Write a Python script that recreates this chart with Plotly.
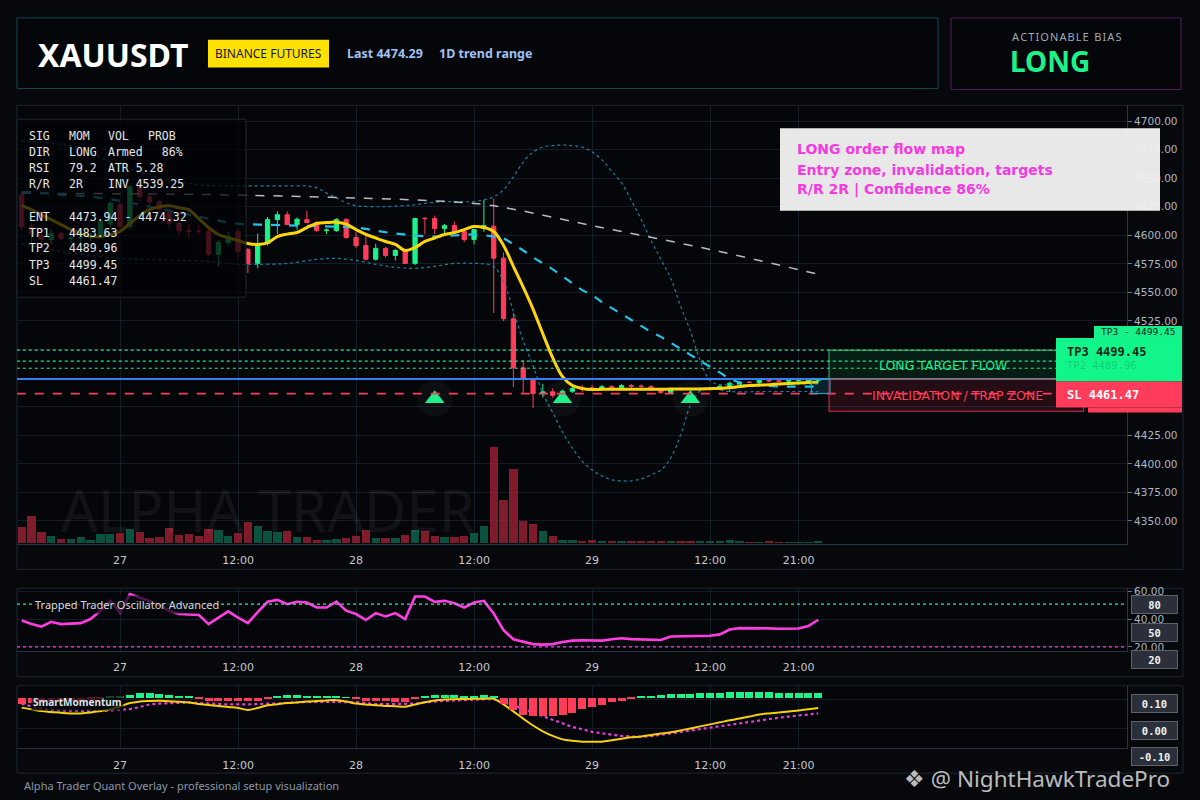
import plotly.graph_objects as go
from datetime import datetime, timedelta

START = datetime(2025, 12, 26, 14)

opens = [4635.4, 4607.6, 4600.0, 4596.3, 4601.5, 4597.2, 4597.6, 4598.0, 4599.0, 4610.0,
         4626.7, 4607.6, 4642.4, 4633.7, 4629.4, 4620.0, 4610.5, 4604.1, 4603.5, 4603.3,
         4583.3, 4593.7, 4603.0, 4587.6, 4575.4, 4592.8, 4613.7, 4618.0, 4609.5, 4613.7,
         4611.1, 4604.1, 4604.1, 4613.7, 4598.0, 4591.1, 4579.0, 4588.5, 4582.4, 4586.7,
         4575.4, 4615.0, 4614.6, 4605.9, 4608.5, 4603.3, 4596.3, 4605.9, 4608.0, 4580.0,
         4527.0, 4484.0, 4474.0, 4461.5, 4463.0, 4460.0, 4463.5, 4466.0, 4466.5, 4465.5,
         4467.5, 4466.5, 4468.5, 4468.0, 4467.5, 4465.0, 4462.5, 4465.4, 4465.2, 4465.0,
         4465.6, 4466.0, 4467.0, 4469.0, 4471.5, 4471.0, 4473.0, 4472.6, 4472.3, 4472.8,
         4472.5, 4473.0]
highs = [4637.5, 4611, 4601.5, 4605, 4603, 4601, 4600, 4602, 4614, 4630,
         4629, 4644, 4645, 4636, 4631, 4623, 4612, 4610, 4609, 4606,
         4596, 4603, 4606, 4589, 4601.5, 4616, 4621, 4621, 4615.5, 4621.5,
         4612.5, 4606, 4615, 4615, 4603, 4602.4, 4592.6, 4590, 4588, 4588,
         4615.5, 4615.5, 4617.2, 4610, 4612, 4605, 4605.5, 4631, 4632, 4585,
         4532, 4491, 4475, 4470, 4466, 4465, 4467.5, 4469, 4469, 4469,
         4469, 4470, 4470, 4469.5, 4469, 4466, 4466.5, 4466.5, 4466.5, 4466.5,
         4467, 4469, 4472, 4472.5, 4472.5, 4474, 4474, 4473.5, 4473.5, 4474,
         4475, 4475]
lows = [4604.5, 4592, 4593, 4592, 4595, 4593, 4593, 4595, 4597, 4607,
        4604, 4605, 4630, 4626, 4620, 4606, 4600, 4597, 4600, 4582,
        4573, 4591, 4580, 4567, 4571, 4591, 4601, 4609, 4605, 4610.5,
        4603, 4601, 4603, 4597, 4589, 4578, 4578, 4580.7, 4578, 4575,
        4574, 4601, 4601, 4601, 4600, 4594, 4592, 4603, 4532, 4525,
        4467, 4462, 4449, 4458, 4458, 4458, 4462, 4463, 4464, 4464,
        4465, 4465, 4466, 4466, 4464, 4461, 4461, 4464, 4464, 4464,
        4464.5, 4465, 4463, 4468, 4470.5, 4470, 4471.5, 4471.5, 4471.5, 4472,
        4472, 4471]
closes = [4607.6, 4601.5, 4596.3, 4601.5, 4597.2, 4597.6, 4598.0, 4599.0, 4612.0, 4628.0,
          4607.6, 4642.4, 4633.7, 4629.4, 4622.4, 4610.5, 4604.1, 4603.5, 4603.2, 4583.3,
          4593.7, 4599.0, 4586.0, 4575.4, 4592.8, 4613.7, 4618.0, 4609.5, 4614.0, 4611.1,
          4604.1, 4604.6, 4613.7, 4598.0, 4591.1, 4579.0, 4588.5, 4582.4, 4586.7, 4575.4,
          4614.6, 4614.6, 4605.9, 4608.5, 4603.3, 4596.3, 4605.0, 4608.5, 4580.0, 4527.0,
          4484.0, 4474.0, 4461.5, 4463.0, 4460.0, 4463.5, 4466.0, 4465.7, 4465.8, 4467.5,
          4467.0, 4468.5, 4468.0, 4467.8, 4465.0, 4462.5, 4465.0, 4465.2, 4465.0, 4465.6,
          4466.2, 4468.0, 4470.5, 4471.5, 4471.2, 4473.0, 4472.6, 4472.3, 4472.8, 4473.2,
          4474.0, 4474.29]
volumes = [49, 81, 33, 21, 13, 13, 18, 10, 27, 27,
           31, 43, 34, 16, 18, 46, 25, 27, 21, 43,
           40, 22, 31, 63, 51, 36, 33, 37, 19, 19,
           10, 10, 13, 16, 21, 40, 16, 16, 16, 25,
           40, 37, 21, 19, 19, 22, 30, 51, 292, 130,
           223, 67, 58, 37, 22, 10, 10, 7, 10, 6,
           6, 6, 6, 6, 6, 6, 6, 6, 6, 6,
           6, 6, 9, 6, 3, 3, 6, 3, 3, 3,
           3, 6]

# smoothed trend (yellow) per candle
trend_ma = [4625.9, 4622.4, 4618.0, 4613.7, 4609.4, 4605.0, 4601.5, 4598.9, 4598.9, 4600.7,
            4603.3, 4610.3, 4617.2, 4622.4, 4625.0, 4625.9, 4624.1, 4622.4, 4614.6, 4606.8,
            4600.7, 4598.0, 4595.4, 4592.8, 4592.0, 4593.3, 4598.9, 4601.0, 4602.4, 4606.8,
            4610.3, 4611.1, 4611.5, 4609.8, 4605.0, 4600.7, 4597.6, 4594.6, 4592.0, 4586.7,
            4589.3, 4594.6, 4597.6, 4600.7, 4602.4, 4605.0, 4607.6, 4606.8, 4603.3, 4591.1,
            4572.8, 4554.6, 4535.4, 4513.7, 4492.8, 4476.3, 4468.5, 4465.9, 4465.0, 4465.2,
            4465.3, 4465.3, 4465.3, 4465.3, 4465.3, 4465.3, 4465.4, 4465.4, 4465.5, 4465.6,
            4465.8, 4466.0, 4466.7, 4467.6, 4468.5, 4468.9, 4469.3, 4469.8, 4470.2, 4470.7,
            4471.1, 4471.5]
upper_band = [4682.4, 4682.0, 4681.5, 4680.7, 4679.5, 4678.5, 4677.2, 4673.0, 4668.5, 4664.1,
              4661.0, 4658.0, 4655.4, 4653.0, 4650.5, 4648.5, 4646.8, 4645.3, 4644.1, 4643.6,
              4643.3, 4643.2, 4643.2, 4643.2, 4643.2, 4643.2, 4643.2, 4643.2, 4643.2, 4643.2,
              4641.5, 4637.0, 4632.8, 4628.5, 4625.9, 4625.2, 4625.0, 4625.0, 4625.5, 4626.0,
              4626.7, 4628.0, 4629.0, 4629.4, 4629.4, 4629.4, 4629.4, 4631.0, 4633.7, 4639.8,
              4651.1, 4664.1, 4672.8, 4677.2, 4678.5, 4679.0, 4678.5, 4677.2, 4673.0, 4666.0,
              4656.0, 4645.9, 4630.2, 4613.7, 4595.4, 4578.9, 4562.4, 4538.0, 4516.3, 4490.2,
              4472.8, 4469.3, 4469.3, 4469.3, 4469.3, 4469.3, 4469.3, 4469.3, 4470.0, 4470.0,
              4470.0, 4470.0]
lower_idx = [0, 2, 4, 7, 10, 13, 16, 19, 22, 24, 27, 30, 32, 34, 36, 38, 40, 42, 44, 46,
             47, 48, 49, 50, 51, 52, 53, 54, 55, 56, 57, 58, 59, 60, 61, 62, 63, 64, 65, 66,
             67, 68, 69, 70, 72, 76, 81]
lower_band = [4592.8, 4589.3, 4585.9, 4582.4, 4579.8, 4578.9, 4578.0, 4577.2, 4574.6, 4574.6,
              4575.4, 4578.9, 4579.8, 4578.0, 4574.6, 4572.0, 4571.1, 4572.8, 4575.4, 4575.4,
              4575.0, 4572.8, 4559.8, 4533.7, 4507.6, 4485.9, 4461.5, 4445.0, 4427.6, 4413.8,
              4402.4, 4394.6, 4389.4, 4386.0, 4385.1, 4385.1, 4386.8, 4390.3, 4394.6, 4405.1,
              4425.1, 4451.1, 4464.1, 4466.0, 4463.3, 4463.3, 4463.3]
basis_idx = [0, 2, 4, 6, 8, 10, 12, 14, 16, 18, 20, 22, 24, 26, 28, 30, 32, 34, 36, 38,
             40, 42, 44, 46, 48, 49, 50, 51, 52, 53, 54, 55, 56, 57, 58, 59, 60, 61, 62, 63,
             64, 65, 66, 67, 68, 69, 70, 71, 72, 73, 74, 75, 78, 81]
basis = [4638.0, 4637.2, 4635.4, 4634.6, 4632.8, 4630.2, 4626.7, 4623.3, 4619.8, 4616.3,
         4612.8, 4610.2, 4609.4, 4609.0, 4608.5, 4608.0, 4607.6, 4606.8, 4604.1, 4601.5,
         4599.8, 4598.9, 4599.8, 4600.7, 4598.9, 4597.2, 4592.0, 4586.7, 4580.7, 4575.4,
         4570.2, 4564.1, 4558.0, 4552.0, 4547.6, 4541.5, 4536.3, 4531.1, 4525.9, 4520.7,
         4515.4, 4511.1, 4505.9, 4500.7, 4495.4, 4490.2, 4485.0, 4479.8, 4474.6, 4471.1,
         4469.3, 4468.5, 4467.6, 4467.6]
regression_idx = [0, 23, 46, 50, 58, 70, 81]
regression = [4636.7, 4635.0, 4627.9, 4622.8, 4608.5, 4587.6, 4565.9]

signal_idx = [42, 55, 68]
signal_price = [4457.0, 4457.0, 4457.0]

TP1, TP2, TP3 = 4483.63, 4489.96, 4499.45
ENTRY_LO, ENTRY_HI = 4473.94, 4474.32
SL = 4461.47
TRAP_LOW = 4446.0

oscillator = [39.0, 36.4, 34.6, 38.0, 36.4, 36.6, 37.1, 40.0, 46.0, 53.0,
              44.8, 57.9, 55.5, 53.0, 50.0, 45.9, 43.6, 43.3, 43.0, 36.4,
              41.2, 45.5, 41.0, 37.1, 45.0, 52.4, 53.8, 50.7, 52.4, 51.9,
              48.3, 48.3, 52.6, 46.0, 43.6, 39.3, 44.3, 41.9, 44.3, 40.0,
              56.2, 56.2, 52.4, 53.1, 51.4, 48.3, 51.9, 53.1, 44.0, 32.0,
              25.5, 23.5, 22.0, 21.6, 22.0, 23.5, 24.5, 24.8, 24.8, 24.5,
              25.5, 26.2, 25.6, 25.3, 25.1, 25.0, 27.5, 27.7, 27.8, 27.9,
              28.0, 29.0, 32.5, 33.5, 33.6, 33.6, 33.3, 33.0, 32.9, 33.2,
              35.0, 39.5]
OSC_HIGH, OSC_LOW = 50.7, 20.0

momentum = [0.072, 0.066, 0.060, 0.057, 0.054, 0.052, 0.052, 0.055, 0.060, 0.066,
            0.076, 0.088, 0.093, 0.095, 0.096, 0.094, 0.092, 0.090, 0.085, 0.081,
            0.078, 0.074, 0.071, 0.064, 0.071, 0.080, 0.084, 0.088, 0.090, 0.093,
            0.095, 0.097, 0.098, 0.093, 0.086, 0.083, 0.080, 0.078, 0.077, 0.075,
            0.083, 0.091, 0.097, 0.100, 0.101, 0.102, 0.103, 0.103, 0.103, 0.083,
            0.059, 0.034, 0.010, -0.010, -0.026, -0.038, -0.043, -0.046, -0.046, -0.046,
            -0.041, -0.036, -0.031, -0.028, -0.023, -0.018, -0.013, -0.007, 0.000, 0.007,
            0.014, 0.021, 0.028, 0.034, 0.041, 0.048, 0.052, 0.055, 0.059, 0.062,
            0.066, 0.071]
mom_signal = [0.086, 0.076, 0.069, 0.064, 0.062, 0.061, 0.060, 0.059, 0.060, 0.062,
              0.064, 0.067, 0.074, 0.083, 0.086, 0.088, 0.089, 0.090, 0.088, 0.086,
              0.084, 0.083, 0.083, 0.083, 0.084, 0.086, 0.086, 0.089, 0.091, 0.092,
              0.092, 0.092, 0.092, 0.092, 0.091, 0.088, 0.084, 0.084, 0.084, 0.084,
              0.086, 0.090, 0.094, 0.096, 0.097, 0.099, 0.100, 0.101, 0.101, 0.091,
              0.081, 0.069, 0.055, 0.043, 0.031, 0.017, 0.005, -0.003, -0.012, -0.017,
              -0.022, -0.026, -0.028, -0.029, -0.027, -0.022, -0.017, -0.012, -0.007, -0.002,
              0.003, 0.009, 0.014, 0.019, 0.024, 0.029, 0.033, 0.037, 0.041, 0.045,
              0.048, 0.052]
mom_hist = [-0.012, -0.010, -0.010, -0.008, -0.008, -0.006, -0.006, -0.004, -0.002, 0.002,
            0.002, 0.006, 0.010, 0.010, 0.008, 0.006, 0.004, 0.002, -0.002, -0.006,
            -0.006, -0.006, -0.006, -0.006, -0.006, -0.002, 0.004, 0.006, 0.006, 0.004,
            0.004, 0.004, 0.002, 0.001, -0.002, -0.006, -0.006, -0.006, -0.008, -0.008,
            -0.002, 0.004, 0.006, 0.006, 0.006, 0.004, 0.004, 0.006, 0.002, -0.012,
            -0.025, -0.035, -0.037, -0.037, -0.037, -0.034, -0.030, -0.023, -0.018, -0.014,
            -0.008, -0.006, -0.003, 0.002, 0.004, 0.005, 0.007, 0.008, 0.008, 0.009,
            0.009, 0.009, 0.011, 0.011, 0.011, 0.011, 0.011, 0.009, 0.009, 0.009,
            0.009, 0.009]

tick_times = [datetime(2025, 12, 27, 0), datetime(2025, 12, 27, 12), datetime(2025, 12, 28, 0),
              datetime(2025, 12, 28, 12), datetime(2025, 12, 29, 0), datetime(2025, 12, 29, 12),
              datetime(2025, 12, 29, 21)]
tick_text = ["27", "12:00", "28", "12:00", "29", "12:00", "21:00"]
price_ticks = [4350 + 25 * k for k in range(15)]
hidden_price_labels = [4450, 4475, 4500]   # covered by the price tags

info_rows = [
    ("SIG", "MOM", "VOL", "PROB"),
    ("DIR", "LONG", "Armed", "  86%"),
    ("RSI", "79.2", "ATR 5.28", ""),
    ("R/R", "2R", "INV 4539.25", ""),
    ("ENT", "4473.94 - 4474.32", "", ""),
    ("TP1", "4483.63", "", ""),
    ("TP2", "4489.96", "", ""),
    ("TP3", "4499.45", "", ""),
    ("SL", "4461.47", "", ""),
]

# ---------------------------------------------------------------
BG = "#06080c"
PLOT_BG = "#04060a"
GRID = "#141d27"
FRAME = "#1b2632"
GREEN = "#1ef08a"
RED = "#ff3d5a"
MONO = "DejaVu Sans Mono"
SANS = "Noto Sans"


def t(h):
    return START + timedelta(hours=h)


def px(x):
    return x / 1200


def py(y):
    return 1 - y / 800


times = [t(i) for i in range(len(opens))]
shapes = []
annotations = []


def rect(x0, y0, x1, y1, fill="rgba(0,0,0,0)", line=None, lw=1, layer="above"):
    shapes.append(dict(type="rect", xref="paper", yref="paper", x0=px(x0), x1=px(x1),
                       y0=py(y1), y1=py(y0), fillcolor=fill, layer=layer,
                       line=dict(color=line or "rgba(0,0,0,0)", width=lw if line else 0)))


def text(x, y, s, size, color, anchor="left", family=SANS, **kw):
    annotations.append(dict(xref="paper", yref="paper", x=px(x), y=py(y), text=s,
                            showarrow=False, xanchor=anchor, yanchor="middle",
                            font=dict(family=family, size=size, color=color), **kw))


fig = go.Figure()

# ---- main panel
fig.add_trace(go.Candlestick(
    x=times, open=opens, high=highs, low=lows, close=closes,
    increasing=dict(line=dict(color=GREEN, width=1), fillcolor=GREEN),
    decreasing=dict(line=dict(color=RED, width=1), fillcolor=RED),
    whiskerwidth=0, hoverinfo="skip", xaxis="x", yaxis="y"))

vol_colors = ["rgba(14,96,74,0.85)" if c >= o else "rgba(150,32,50,0.85)"
              for o, c in zip(opens, closes)]
fig.add_trace(go.Bar(x=times, y=volumes, marker=dict(color=vol_colors, line=dict(width=0)),
                     width=0.85 * 3600 * 1000, xaxis="x", yaxis="y2", hoverinfo="skip"))

fig.add_trace(go.Scatter(x=times, y=upper_band, mode="lines", line=dict(color="#1b7fa0", width=1.2, dash="dot", shape="spline"),
                         xaxis="x", yaxis="y", hoverinfo="skip"))
fig.add_trace(go.Scatter(x=[times[i] for i in lower_idx], y=lower_band, mode="lines",
                         line=dict(color="#1b7fa0", width=1.2, dash="dot", shape="spline"),
                         xaxis="x", yaxis="y", hoverinfo="skip"))
fig.add_trace(go.Scatter(x=[times[i] for i in regression_idx], y=regression, mode="lines",
                         line=dict(color="rgba(215,220,226,0.85)", width=1.5, dash="dash", shape="spline"),
                         xaxis="x", yaxis="y", hoverinfo="skip"))
fig.add_trace(go.Scatter(x=[times[i] for i in basis_idx], y=basis, mode="lines",
                         line=dict(color="#22c3ea", width=2.2, dash="dash", shape="spline"),
                         xaxis="x", yaxis="y", hoverinfo="skip"))
fig.add_trace(go.Scatter(x=times, y=trend_ma, mode="lines", line=dict(color="#ffd60a", width=3, shape="spline"),
                         xaxis="x", yaxis="y", hoverinfo="skip"))
sig_x = [times[i] for i in signal_idx]
fig.add_trace(go.Scatter(x=sig_x, y=signal_price, mode="markers",
                         marker=dict(symbol="circle", size=36, color="rgba(200,210,220,0.045)"),
                         xaxis="x", yaxis="y", hoverinfo="skip"))
fig.add_trace(go.Scatter(x=sig_x, y=signal_price, mode="markers",
                         marker=dict(symbol="triangle-up", size=17, color=GREEN),
                         xaxis="x", yaxis="y", hoverinfo="skip"))

# ---- oscillator panel
fig.add_trace(go.Scatter(x=times, y=oscillator, mode="lines", line=dict(color="#ff3de0", width=2.6),
                         xaxis="x2", yaxis="y3", hoverinfo="skip"))

# ---- momentum panel
hist_colors = [GREEN if v >= 0 else RED for v in mom_hist]
fig.add_trace(go.Bar(x=times, y=mom_hist, marker=dict(color=hist_colors, line=dict(width=0)),
                     width=0.82 * 3600 * 1000, xaxis="x3", yaxis="y5", hoverinfo="skip"))
fig.add_trace(go.Scatter(x=times, y=mom_signal, mode="lines", line=dict(color="#e63de0", width=2.2, dash="dot"),
                         xaxis="x3", yaxis="y4", hoverinfo="skip"))
fig.add_trace(go.Scatter(x=times, y=momentum, mode="lines", line=dict(color="#f5d20a", width=2, shape="spline"),
                         xaxis="x3", yaxis="y4", hoverinfo="skip"))

# ---- levels and zones (data coords)
x_left, x_lines_end = t(-0.5), t(105.6)
for lvl in (TP1, TP2, TP3):
    shapes.append(dict(type="line", xref="x", yref="y", x0=x_left, x1=x_lines_end, y0=lvl, y1=lvl,
                       line=dict(color="#22e88a", width=1.2, dash="dot"), layer="above"))
shapes.append(dict(type="line", xref="x", yref="y", x0=x_left, x1=x_lines_end, y0=ENTRY_HI, y1=ENTRY_HI,
                   line=dict(color="#2f80f5", width=2), layer="above"))
shapes.append(dict(type="line", xref="x", yref="y", x0=x_left, x1=x_lines_end, y0=SL, y1=SL,
                   line=dict(color=RED, width=1.6, dash="dash"), layer="above"))
shapes.append(dict(type="rect", xref="x", yref="y", x0=t(80.3), x1=t(82.2), y0=SL, y1=ENTRY_HI,
                   fillcolor="rgba(30,170,210,0.18)", line=dict(color="#1ab4e0", width=1), layer="above"))
shapes.append(dict(type="rect", xref="x", yref="y", x0=t(82.1), x1=t(105.3), y0=ENTRY_HI, y1=TP3,
                   fillcolor="rgba(30,240,138,0.10)", line=dict(color="#1ec87a", width=1), layer="above"))
shapes.append(dict(type="rect", xref="x", yref="y", x0=t(82.1), x1=t(108.0), y0=TRAP_LOW, y1=ENTRY_LO,
                   fillcolor="rgba(255,61,90,0.13)", line=dict(color="#d8324f", width=1), layer="above"))

# ---- frames
rect(17, 15, 938, 86, fill="#04060a", line="#0f4857", layer="below")
rect(951, 15, 1181, 87, fill="#04060a", line="#551c5c", layer="below")
rect(17, 103, 1183, 570, line=FRAME, layer="below")
rect(17, 589, 1183, 678, line=FRAME, layer="below")
rect(17, 687, 1183, 775, line=FRAME, layer="below")
rect(208, 37, 329, 65, fill="#ffe100", layer="below")

# info panel overlay
rect(17, 117, 246, 296, fill="rgba(2,3,6,0.74)", line="#20262f")
# note box
rect(780, 126, 1160, 209, fill="rgba(241,241,241,0.96)")
# price tags on the right
rect(1094, 325, 1182, 338, fill="#18f08c")
rect(1056, 337, 1182, 381, fill="#12f58a")
rect(1056, 381, 1182, 407, fill="#ff3d5a")
rect(1088, 407, 1182, 412, fill="#ff3d5a")

# ---- texts
text(36, 52, "<b>XAUUSDT</b>", 32, "#ffffff")
text(268.5, 51, "BINANCE FUTURES", 12, "#16181d", anchor="center")
text(345, 51, "<b>Last 4474.29</b>", 12.5, "#9fc2f2")
text(437, 51, "<b>1D trend range</b>", 12.5, "#9fc2f2")
text(1066, 34, "\u200a".join("ACTIONABLE") + "\u2002" + "\u200a".join("BIAS"), 11, "#a0a8b3", anchor="center")
text(1050, 58, "<b>LONG</b>", 28, GREEN, anchor="center")

row_y = [134, 150, 166, 182.5, 215, 231, 247, 264, 280]
col_x = [27, 67, 106, 146]
for yy, row in zip(row_y, info_rows):
    for xx, cell in zip(col_x, row):
        if cell:
            text(xx, yy, cell.replace(" ", "\u00a0"), 11.5, "#e4e6ea", family=MONO)

for yy, line in zip([147, 168, 188], ["LONG order flow map", "Entry zone, invalidation, targets",
                                      "R/R 2R | Confidence 86%"]):
    text(795, yy, "<b>" + line + "</b>", 14, "#f43ae0", family="DejaVu Sans")

text(943, 365, "LONG TARGET FLOW", 12.5, GREEN, anchor="center", family="DejaVu Sans")
text(957, 395, "INVALIDATION / TRAP ZONE", 12.5, RED, anchor="center", family="DejaVu Sans")
text(1138, 331, "TP3 - 4499.45", 9.5, "#0a2a1a", anchor="center", family=MONO)
text(1065, 351, "<b>TP3 4499.45</b>", 12, "#06281a", family=MONO)
text(1065, 364, "TP2 4489.96", 10.5, "rgba(6,60,36,0.22)", family=MONO)
text(1065, 394, "<b>SL 4461.47</b>", 12, "#ffffff", family=MONO)

text(268, 510, "ALPHA TRADER", 58, "rgba(255,255,255,0.055)", anchor="center")

text(33, 605, "Trapped Trader Oscillator Advanced", 11, "#d6d9de", bgcolor="rgba(5,7,11,0.72)")
text(31, 703.5, "<b>SmartMomentum</b>", 10, "#dfe2e6", bgcolor="rgba(5,7,11,0.72)")
for yy, lab in zip([605.5, 633, 661], ["80", "50", "20"]):
    text(1154, yy, "<b>" + lab + "</b>", 10.5, "#f0f0f0", anchor="center", family=MONO,
         bgcolor="#2a2f39", bordercolor="#5d636d", borderwidth=1, width=43, height=15)
for yy, lab in zip([704.5, 732, 758.5], ["0.10", "0.00", "-0.10"]):
    text(1154, yy, "<b>" + lab + "</b>", 10.5, "#f0f0f0", anchor="center", family=MONO,
         bgcolor="#2a2f39", bordercolor="#5d636d", borderwidth=1, width=43, height=15)

text(22, 787, "Alpha Trader Quant Overlay - professional setup visualization", 11, "#8c97a5")
text(902, 780, "\u2756 @ NightHawkTradePro", 22.5, "rgba(228,228,228,0.82)")

# ---- axes
x_range = [t(-0.478), t(112.4)]
dom_x = [px(17), px(1127)]


def xaxis(anchor):
    return dict(domain=dom_x, range=x_range, anchor=anchor, type="date",
                tickvals=tick_times, ticktext=tick_text, showgrid=True, gridcolor=GRID,
                zeroline=False, showline=True, linecolor="#263240", ticks="",
                ticklabelstandoff=6,
                tickfont=dict(family="DejaVu Sans", size=11, color="#c3c9d1"),
                rangeslider=dict(visible=False), fixedrange=True)


fig.update_layout(
    width=1200, height=800, autosize=False,
    margin=dict(l=0, r=0, t=0, b=0),
    paper_bgcolor=BG, plot_bgcolor=PLOT_BG,
    showlegend=False, boxgap=0.38, bargap=0,
    xaxis=xaxis("y"), xaxis2=xaxis("y3"), xaxis3=xaxis("y4"),
    yaxis=dict(domain=[py(544), py(103)], range=[4330.2, 4713.7], side="right", anchor="x",
               tickvals=price_ticks,
               ticktext=["" if v in hidden_price_labels else "%.2f" % v for v in price_ticks],
               ticks="outside", ticklen=4, tickcolor="#6b7480", showline=True, linecolor="#2b3542",
               gridcolor=GRID, zeroline=False,
               tickfont=dict(family="DejaVu Sans", size=10.5, color="#aeb6c0")),
    yaxis2=dict(overlaying="y", range=[0, 1323], visible=False, anchor="x"),
    yaxis3=dict(domain=[py(652), py(589)], range=[17.1, 62.1], side="right", anchor="x2",
                tickvals=[20, 40, 60], ticktext=["20.00", "40.00", "60.00"],
                ticks="outside", ticklen=4, tickcolor="#6b7480", showline=True, linecolor="#2b3542",
                gridcolor=GRID, zeroline=False,
                tickfont=dict(family="DejaVu Sans", size=10.5, color="#aeb6c0")),
    yaxis4=dict(domain=[py(750), py(687)], range=[-0.069, 0.148], side="right", anchor="x3",
                tickvals=[0, 0.1], showticklabels=False, ticks="", showline=True, linecolor="#2b3542",
                gridcolor=GRID, zeroline=False),
    yaxis5=dict(overlaying="y4", range=[-0.102, 0.024], visible=False, anchor="x3"),
    shapes=shapes, annotations=annotations,
)

# oscillator levels
fig.add_shape(type="line", xref="x2", yref="y3", x0=x_range[0], x1=x_range[1], y0=OSC_HIGH, y1=OSC_HIGH,
              line=dict(color="#2ee8a0", width=1.2, dash="dot"))
fig.add_shape(type="line", xref="x2", yref="y3", x0=x_range[0], x1=x_range[1], y0=OSC_LOW, y1=OSC_LOW,
              line=dict(color="#ff3de0", width=1.2, dash="dot"))

# the default page keeps an 8px body margin; drop it so the figure fills the window
fig.write_html("out.html", config={"displayModeBar": False},
               post_script="document.body.style.margin='0';document.body.style.background='#06080c';")
